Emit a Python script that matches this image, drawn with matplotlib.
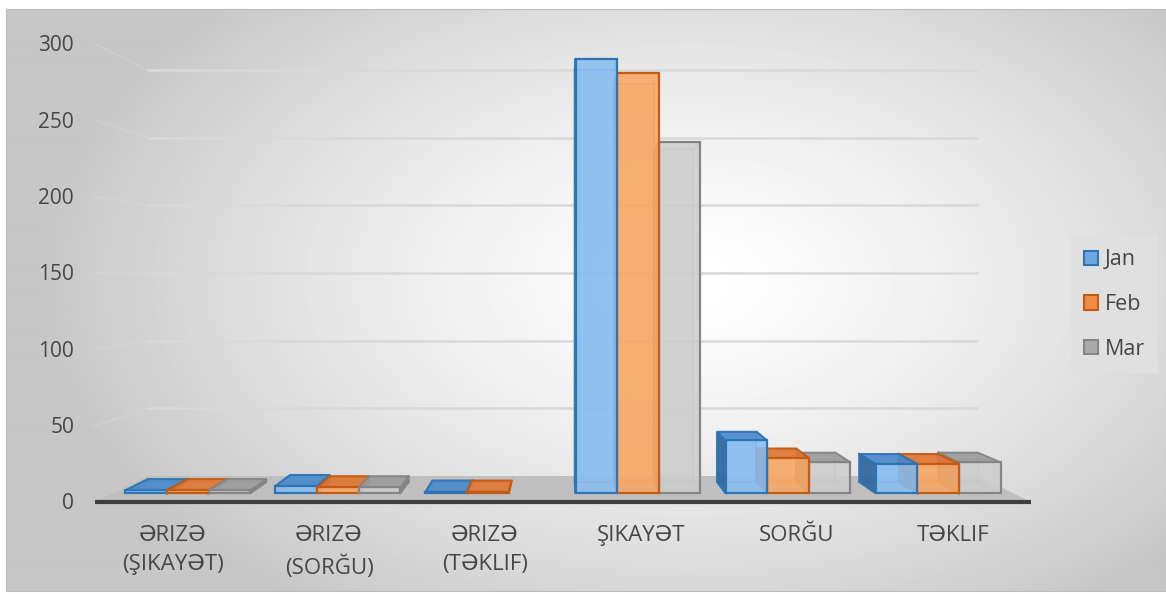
import matplotlib

matplotlib.use("Agg")
import matplotlib.pyplot as plt
import numpy as np
from matplotlib.patches import Patch, Polygon

categories = [
    "ƏRIZƏ\n(ŞIKAYƏT)",
    "ƏRIZƏ\n(SORĞU)",
    "ƏRIZƏ\n(TƏKLIF)",
    "ŞIKAYƏT",
    "SORĞU",
    "TƏKLIF",
]
series_names = ["Jan", "Feb", "Mar"]
jan = [2, 5, 1, 296, 36, 20]
feb = [2, 4, 1, 286, 24, 20]
mar = [2, 4, np.nan, 239, 21, 21]
y_ticks = [0, 50, 100, 150, 200, 250, 300]

W, H = 1166, 594
TEXT = "#474747"
FONT = ["Open Sans", "DejaVu Sans"]

# front plane of the 3D box (pixels, y from the top)
FRONT_LEFT, CAT_PX = 95, 156
FLOOR_PX, UNIT_PX = 502, 1.527
VP_PX = (561, 274)
S_WALL, S_FRONT, S_BACK = 0.886, 0.962, 0.912
BAR_W = 0.2774

# face, top, side, edge
STYLES = [
    ("#88BDF0", "#4A8ACB", "#2F6499", "#2E75B6"),
    ("#F8A866", "#DE7736", "#B65A1E", "#C55A11"),
    ("#CDCDCD", "#9C9C9C", "#7E7E7E", "#858585"),
]
LEGEND_FACE = ["#6FA8DC", "#F08C48", "#ABABAB"]


def px_to_data(px: float, py: float) -> tuple[float, float]:
    return (px - FRONT_LEFT) / CAT_PX - 0.5, (FLOOR_PX - py) / UNIT_PX


VX, VY = px_to_data(*VP_PX)


def proj(x: float, y: float, s: float) -> tuple[float, float]:
    return VX + (x - VX) * s, VY + (y - VY) * s


def draw_background(fig) -> None:
    bg = fig.add_axes([6 / W, 3 / H, 1160 / W, 582 / H], zorder=-5)
    xs = np.linspace(6, 1166, 580)
    ys = np.linspace(9, 591, 290)
    gx, gy = np.meshgrid(xs, ys)
    d = np.sqrt(((gx - 690) / 650) ** 2 + ((gy - 280) / 400) ** 2)
    shade = 1.0 - (56 / 255) * np.clip(d, 0, 1) ** 1.4
    bg.imshow(shade, cmap="gray", vmin=0, vmax=1, aspect="auto",
              extent=(6, 1166, 591, 9))
    bg.set_xlim(6, 1166)
    bg.set_ylim(591, 9)
    bg.set_xticks([])
    bg.set_yticks([])
    for spine in bg.spines.values():
        spine.set_color("#BDBDBD")
        spine.set_linewidth(0.8)


def draw_box(ax, xc: float, value: float, style, z: float) -> None:
    face, top, side, edge = style
    xl, xr = xc - BAR_W / 2, xc + BAR_W / 2
    f = [proj(xl, 0, S_FRONT), proj(xr, 0, S_FRONT),
         proj(xr, value, S_FRONT), proj(xl, value, S_FRONT)]
    b = [proj(xl, 0, S_BACK), proj(xr, 0, S_BACK),
         proj(xr, value, S_BACK), proj(xl, value, S_BACK)]

    # hidden back structure seen through the transparent column
    ax.add_patch(Polygon(b, closed=True, facecolor=face, alpha=0.35,
                         edgecolor="none", zorder=z))
    for k in range(4):
        ax.plot(*zip(b[k], b[(k + 1) % 4]), color=edge, alpha=0.45,
                lw=1.3, zorder=z + 0.1, solid_capstyle="round")
        ax.plot(*zip(f[k], b[k]), color=edge, alpha=0.45, lw=1.3,
                zorder=z + 0.1, solid_capstyle="round")

    if xl > VX:
        ax.add_patch(Polygon([f[0], f[3], b[3], b[0]], closed=True,
                             facecolor=side, edgecolor=edge, lw=1.5,
                             alpha=0.9, zorder=z + 0.2))
    elif xr < VX:
        ax.add_patch(Polygon([f[1], f[2], b[2], b[1]], closed=True,
                             facecolor=side, edgecolor=edge, lw=1.5,
                             alpha=0.9, zorder=z + 0.2))
    if value < VY:
        ax.add_patch(Polygon([f[3], f[2], b[2], b[3]], closed=True,
                             facecolor=top, edgecolor=edge, lw=1.5,
                             alpha=0.9, zorder=z + 0.3))

    ax.bar(f[0][0], value * S_FRONT, width=BAR_W * S_FRONT,
           bottom=f[0][1], align="edge", color=face, alpha=0.88,
           edgecolor="none", zorder=z + 0.4)
    ax.bar(f[0][0], value * S_FRONT, width=BAR_W * S_FRONT,
           bottom=f[0][1], align="edge", fill=False,
           edgecolor=edge, linewidth=1.6, zorder=z + 0.45)


def main() -> None:
    fig = plt.figure(figsize=(W / 100, H / 100), dpi=100)
    fig.patch.set_facecolor("white")
    draw_background(fig)

    ax = fig.add_axes([0, 0, 1, 1])
    ax.set_xlim(px_to_data(0, 0)[0], px_to_data(W, 0)[0])
    ax.set_ylim(px_to_data(0, H)[1], px_to_data(0, 0)[1])
    ax.axis("off")
    ax.patch.set_alpha(0)

    x0, x1 = -0.5, len(categories) - 0.5

    # floor and walls
    floor = [proj(x0, 0, 1), proj(x1, 0, 1), proj(x1, 0, S_WALL),
             proj(x0, 0, S_WALL)]
    ax.add_patch(Polygon(floor, closed=True, facecolor="#BFBFBF",
                         edgecolor="none", zorder=1))
    ax.plot([x0, x1], [0, 0], color="#3F3F3F", lw=3, zorder=2,
            solid_capstyle="butt")
    for t in y_ticks[1:]:
        ax.plot(*zip(proj(x0, t, S_WALL), proj(x1, t, S_WALL)),
                color="#D9D9D9", lw=1.8, zorder=1)
        ax.plot(*zip(proj(x0, t, 1), proj(x0, t, S_WALL)),
                color="#DADADA", lw=1.4, alpha=0.35, zorder=1)

    # tick labels
    lab_x = px_to_data(74, 0)[0]
    for t in y_ticks:
        ax.text(lab_x, t - 1.2, str(t), ha="right", va="center",
                fontsize=15, color=TEXT, family=FONT)
    lab_y = px_to_data(0, 525)[1]
    for i, cat in enumerate(categories):
        ax.text(i, lab_y, cat, ha="center", va="top", fontsize=16,
                color=TEXT, family=FONT, linespacing=1.5)

    # columns, drawn from the outside in so nearer faces overlap
    bars = []
    for j, values in enumerate([jan, feb, mar]):
        for i, v in enumerate(values):
            if np.isnan(v):
                continue
            xc = i + (j - 1) * BAR_W
            bars.append((abs(xc - VX), xc, v, STYLES[j]))
    bars.sort(key=lambda item: -item[0])
    for n, (_, xc, v, style) in enumerate(bars):
        draw_box(ax, xc, v, style, 10 + n)

    handles = [
        Patch(facecolor=LEGEND_FACE[j], edgecolor=STYLES[j][3], lw=1.5)
        for j in range(3)
    ]
    leg = ax.legend(
        handles, series_names, loc="center",
        bbox_to_anchor=(1114.5 / W, 1 - 304.5 / H),
        bbox_transform=fig.transFigure, frameon=True, fancybox=False,
        prop={"family": FONT, "size": 15.5}, labelcolor=TEXT,
        handlelength=0.65, handleheight=0.65, handletextpad=0.3,
        labelspacing=1.1, borderpad=0.6, borderaxespad=0,
    )
    leg.get_frame().set_facecolor("#E0E0E0")
    leg.get_frame().set_edgecolor("none")
    leg.get_frame().set_alpha(1)
    leg.set_zorder(200)

    fig.savefig("out.png", dpi=100, facecolor="white")
    plt.close(fig)


if __name__ == "__main__":
    main()
